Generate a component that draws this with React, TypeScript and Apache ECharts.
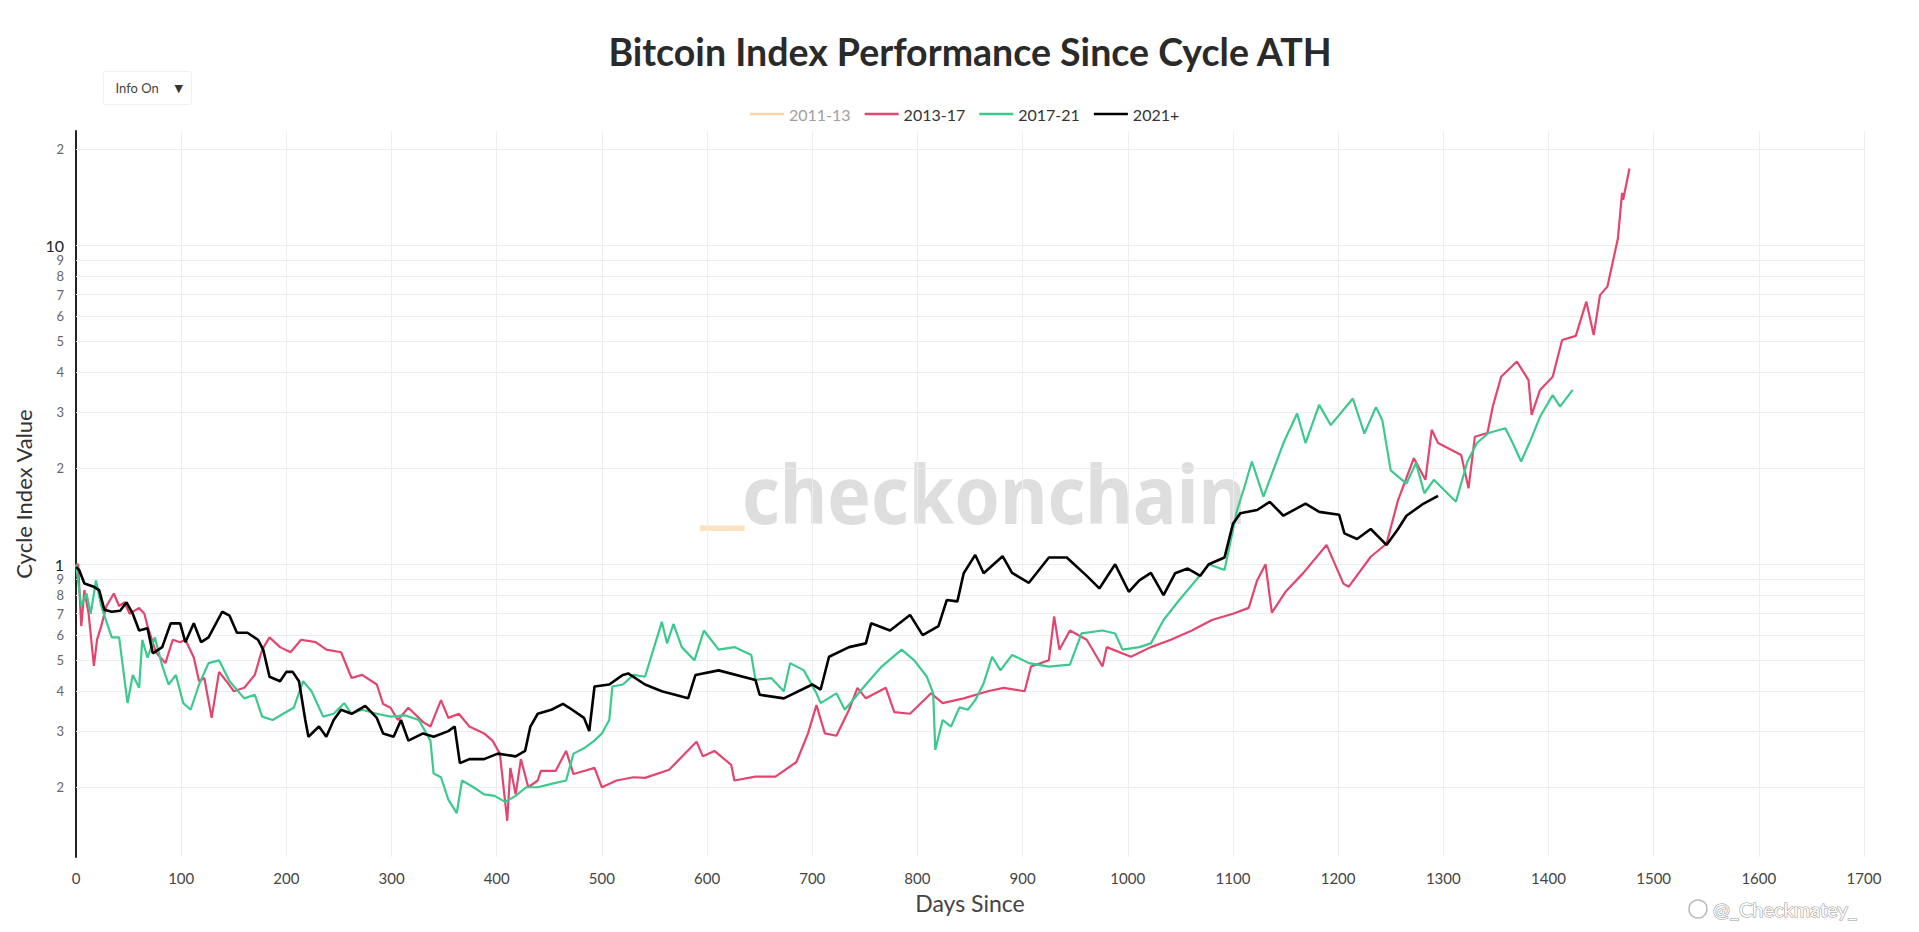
import React, { useEffect, useRef } from "react";
import * as echarts from "echarts";

// ---- Data ----
const seriesNames = ["2011-13", "2013-17", "2017-21", "2021+"];
const seriesColors = ["#f8d4aa", "#e2466f", "#3cc98e", "#000000"];
const seriesWidths = [2, 2.2, 2.2, 2.6];

// 2011-13 is hidden in the reference (legend item switched off): nothing to read
const days2011: number[] = [];
const values2011: number[] = [];

const days2013 = [0, 2, 5, 8, 12, 17, 20, 24, 29, 36, 41, 46, 51, 60, 65, 68, 76, 85, 92, 99, 104, 112, 117, 122, 129, 136, 143, 150, 160, 170, 177, 184, 194, 204, 214, 228, 238, 252, 262, 272, 286, 292, 299, 306, 316, 330, 337, 347, 354, 364, 374, 388, 396, 403, 410, 413, 418, 423, 430, 439, 442, 456, 466, 473, 483, 493, 500, 514, 530, 541, 564, 590, 596, 607, 623, 626, 646, 665, 685, 696, 704, 712, 723, 735, 743, 751, 770, 778, 793, 813, 824, 844, 867, 882, 902, 908, 925, 930, 935, 945, 961, 976, 980, 1003, 1022, 1041, 1061, 1080, 1100, 1115, 1123, 1131, 1137, 1150, 1167, 1189, 1205, 1210, 1231, 1246, 1257, 1272, 1283, 1289, 1295, 1317, 1324, 1330, 1342, 1347, 1355, 1370, 1381, 1384, 1392, 1404, 1413, 1426, 1436, 1443, 1449, 1456, 1466, 1470, 1471, 1477];
const values2013 = [1.0, 1.0, 0.64, 0.83, 0.7, 0.48, 0.58, 0.64, 0.74, 0.81, 0.74, 0.76, 0.7, 0.73, 0.7, 0.64, 0.53, 0.49, 0.58, 0.57, 0.58, 0.51, 0.43, 0.44, 0.33, 0.46, 0.43, 0.4, 0.41, 0.45, 0.54, 0.59, 0.55, 0.53, 0.58, 0.57, 0.54, 0.53, 0.44, 0.45, 0.42, 0.365, 0.355, 0.325, 0.355, 0.32, 0.31, 0.375, 0.33, 0.34, 0.31, 0.295, 0.28, 0.255, 0.157, 0.23, 0.19, 0.245, 0.2, 0.21, 0.225, 0.225, 0.26, 0.22, 0.225, 0.23, 0.2, 0.21, 0.215, 0.214, 0.227, 0.278, 0.25, 0.26, 0.235, 0.21, 0.216, 0.216, 0.24, 0.295, 0.362, 0.295, 0.29, 0.35, 0.41, 0.38, 0.41, 0.344, 0.34, 0.394, 0.367, 0.38, 0.4, 0.41, 0.4, 0.478, 0.5, 0.686, 0.54, 0.62, 0.58, 0.478, 0.55, 0.513, 0.55, 0.58, 0.62, 0.669, 0.7, 0.73, 0.89, 1.0, 0.705, 0.82, 0.94, 1.15, 0.87, 0.85, 1.056, 1.16, 1.59, 2.15, 1.84, 2.64, 2.4, 2.2, 1.73, 2.51, 2.58, 3.12, 3.87, 4.32, 3.78, 2.94, 3.52, 3.87, 5.05, 5.2, 6.66, 5.23, 6.98, 7.42, 10.5, 14.6, 13.9, 17.4];

const days2017 = [0, 5, 10, 14, 19, 24, 29, 34, 41, 49, 54, 60, 63, 68, 75, 82, 88, 95, 102, 109, 117, 126, 136, 146, 160, 170, 177, 187, 197, 207, 216, 224, 235, 245, 255, 262, 272, 286, 299, 313, 326, 337, 340, 347, 354, 362, 367, 378, 388, 398, 408, 418, 428, 439, 452, 466, 473, 483, 493, 500, 507, 510, 520, 530, 541, 557, 562, 568, 576, 588, 597, 611, 626, 642, 646, 661, 673, 679, 692, 704, 708, 723, 731, 751, 766, 785, 797, 809, 815, 817, 824, 832, 840, 848, 855, 863, 871, 879, 890, 906, 925, 945, 956, 976, 988, 995, 1011, 1022, 1034, 1049, 1065, 1077, 1092, 1100, 1104, 1111, 1118, 1129, 1148, 1161, 1169, 1182, 1193, 1214, 1225, 1236, 1242, 1250, 1265, 1274, 1282, 1291, 1312, 1323, 1332, 1343, 1359, 1366, 1374, 1383, 1392, 1404, 1411, 1423];
const values2017 = [1.0, 0.74, 0.81, 0.7, 0.89, 0.74, 0.66, 0.59, 0.59, 0.367, 0.45, 0.41, 0.58, 0.51, 0.59, 0.48, 0.42, 0.45, 0.367, 0.35, 0.42, 0.49, 0.5, 0.43, 0.38, 0.39, 0.333, 0.325, 0.34, 0.355, 0.43, 0.4, 0.333, 0.34, 0.367, 0.34, 0.35, 0.34, 0.333, 0.336, 0.325, 0.28, 0.221, 0.215, 0.183, 0.166, 0.21, 0.2, 0.19, 0.188, 0.18, 0.188, 0.2, 0.2, 0.205, 0.21, 0.255, 0.265, 0.28, 0.295, 0.325, 0.414, 0.42, 0.45, 0.444, 0.66, 0.565, 0.65, 0.55, 0.5, 0.62, 0.54, 0.55, 0.52, 0.434, 0.44, 0.4, 0.49, 0.465, 0.394, 0.367, 0.394, 0.35, 0.42, 0.478, 0.54, 0.5, 0.444, 0.394, 0.262, 0.325, 0.31, 0.356, 0.35, 0.375, 0.424, 0.513, 0.465, 0.52, 0.49, 0.478, 0.485, 0.607, 0.62, 0.607, 0.54, 0.55, 0.565, 0.669, 0.773, 0.893, 1.0, 0.96, 1.28, 1.48, 1.75, 2.1, 1.63, 2.4, 2.97, 2.4, 3.16, 2.73, 3.31, 2.57, 3.11, 2.83, 1.97, 1.79, 2.08, 1.67, 1.84, 1.57, 2.1, 2.4, 2.58, 2.67, 2.4, 2.1, 2.45, 2.9, 3.39, 3.12, 3.52];

const days2021 = [0, 3, 8, 17, 22, 27, 34, 42, 48, 54, 60, 68, 73, 82, 90, 99, 104, 112, 119, 126, 139, 146, 153, 163, 173, 178, 184, 194, 200, 206, 212, 218, 221, 231, 238, 245, 252, 262, 275, 286, 292, 302, 309, 316, 330, 340, 354, 360, 365, 374, 388, 401, 418, 427, 432, 439, 452, 463, 469, 483, 488, 493, 507, 520, 525, 541, 557, 582, 589, 611, 646, 650, 673, 700, 708, 716, 735, 751, 756, 774, 793, 805, 820, 828, 838, 844, 855, 863, 881, 890, 906, 925, 942, 961, 973, 988, 1001, 1011, 1022, 1034, 1045, 1057, 1069, 1077, 1092, 1100, 1107, 1123, 1135, 1148, 1169, 1182, 1201, 1206, 1218, 1231, 1246, 1257, 1265, 1280, 1295];
const values2021 = [0.98, 0.96, 0.87, 0.85, 0.83, 0.72, 0.71, 0.715, 0.76, 0.7, 0.62, 0.63, 0.526, 0.55, 0.653, 0.653, 0.57, 0.653, 0.57, 0.59, 0.71, 0.69, 0.61, 0.61, 0.58, 0.54, 0.444, 0.43, 0.46, 0.46, 0.43, 0.325, 0.288, 0.31, 0.288, 0.325, 0.35, 0.34, 0.36, 0.33, 0.295, 0.288, 0.325, 0.28, 0.295, 0.288, 0.3, 0.31, 0.238, 0.245, 0.245, 0.255, 0.25, 0.26, 0.31, 0.34, 0.35, 0.365, 0.355, 0.33, 0.3, 0.414, 0.42, 0.45, 0.455, 0.42, 0.4, 0.38, 0.45, 0.465, 0.434, 0.39, 0.38, 0.42, 0.405, 0.513, 0.55, 0.565, 0.653, 0.62, 0.694, 0.6, 0.64, 0.773, 0.765, 0.937, 1.07, 0.937, 1.06, 0.94, 0.875, 1.05, 1.05, 0.92, 0.84, 1.0, 0.82, 0.89, 0.94, 0.8, 0.937, 0.97, 0.92, 1.0, 1.05, 1.34, 1.445, 1.48, 1.57, 1.42, 1.55, 1.46, 1.43, 1.25, 1.2, 1.29, 1.15, 1.29, 1.42, 1.54, 1.64];

// log-axis gridlines and their tick labels
const yTickValues = [0.2, 0.3, 0.4, 0.5, 0.6, 0.7, 0.8, 0.9, 1, 2, 3, 4, 5, 6, 7, 8, 9, 10, 20];
const yTickLabels = ["2", "3", "4", "5", "6", "7", "8", "9", "1", "2", "3", "4", "5", "6", "7", "8", "9", "10", "2"];
const yMajorTicks = [1, 10];

const FONT = "Lato, 'Noto Sans', sans-serif";

function zip(days: number[], values: number[]) {
  return days.map((d, i) => [d, values[i]]);
}

export default function App() {
  const ref = useRef<HTMLDivElement>(null);

  useEffect(() => {
    if (!ref.current) return;
    const chart = echarts.init(ref.current, null, { renderer: "svg" });

    const allDays = [days2011, days2013, days2017, days2021];
    const allValues = [values2011, values2013, values2017, values2021];

    const series: any[] = seriesNames.map((name, i) => ({
      name,
      type: "line",
      data: zip(allDays[i], allValues[i]),
      showSymbol: false,
      symbol: "none",
      color: seriesColors[i],
      lineStyle: { width: seriesWidths[i], color: seriesColors[i] },
      emphasis: { disabled: true },
      z: 2 + i,
    }));

    series[1].markLine = {
      silent: true,
      symbol: ["none", "none"],
      z: 1,
      animation: false,
      lineStyle: { color: "#ececec", width: 1, type: "solid" },
      label: {
        position: "start",
        distance: 12,
        formatter: "{b}",
        fontSize: 13,
        color: "#666",
        fontFamily: FONT,
      },
      emphasis: { disabled: true },
      data: yTickValues.map((v, i) => ({
        yAxis: v,
        name: yTickLabels[i],
        label: yMajorTicks.includes(v)
          ? { fontSize: 16, color: "#222", distance: 12 }
          : undefined,
      })),
    };

    const wmFont = { fontSize: 80, fontWeight: "bold", fontFamily: "'Noto Sans'" };

    chart.setOption({
      animation: false,
      backgroundColor: "#ffffff",
      title: {
        text: "Bitcoin Index Performance Since Cycle ATH",
        left: 965,
        top: 27,
        textAlign: "center",
        textStyle: {
          fontFamily: FONT,
          fontWeight: "bold",
          fontSize: 37.5,
          color: "#2a2a2a",
        },
      },
      legend: {
        left: 745,
        top: 101,
        icon: "rect",
        itemWidth: 34,
        itemHeight: 2.5,
        itemGap: 14,
        textStyle: { fontFamily: FONT, fontSize: 16, color: "#333" },
        data: [
          { name: "2011-13", textStyle: { color: "#a0a0a0" } },
          "2013-17",
          "2017-21",
          "2021+",
        ],
      },
      grid: { left: 76, right: 55, top: 131, bottom: 75, containLabel: false },
      xAxis: {
        type: "value",
        min: 0,
        max: 1700,
        interval: 100,
        name: "Days Since",
        nameLocation: "middle",
        nameGap: 34,
        nameTextStyle: { fontFamily: FONT, fontSize: 23, color: "#444" },
        axisLine: { show: false },
        axisTick: { show: false },
        axisLabel: {
          color: "#444",
          fontSize: 15,
          margin: 13,
          fontFamily: FONT,
          formatter: (v: number) => String(v),
        },
        splitLine: { show: true, lineStyle: { color: "#eeeeee", width: 1 } },
      },
      yAxis: {
        type: "log",
        logBase: 10,
        min: 0.1209,
        max: 22.82,
        name: "Cycle Index Value",
        nameLocation: "middle",
        nameGap: 42,
        nameTextStyle: { fontFamily: FONT, fontSize: 22, color: "#333" },
        axisLine: { show: true, lineStyle: { color: "#222", width: 2 } },
        axisTick: { show: false },
        axisLabel: { show: false },
        splitLine: { show: false },
      },
      graphic: [
        {
          type: "text",
          x: 700,
          y: 487,
          scaleX: 1.35,
          z: 0,
          silent: true,
          style: {
            text: "_",
            textAlign: "left",
            textVerticalAlign: "middle",
            fill: "#fde2c2",
            ...wmFont,
          },
        },
        {
          type: "text",
          x: 742,
          y: 493,
          scaleX: 0.915,
          z: 0,
          silent: true,
          style: {
            text: "checkonchain",
            textAlign: "left",
            textVerticalAlign: "middle",
            fill: "#dedede",
            ...wmFont,
          },
        },
        {
          type: "group",
          left: 103,
          top: 71,
          silent: true,
          children: [
            {
              type: "rect",
              shape: { x: 0, y: 0, width: 88, height: 33, r: 2 },
              style: { fill: "#ffffff", stroke: "#f1f1f1", lineWidth: 1 },
            },
            {
              type: "text",
              x: 12,
              y: 16.5,
              style: {
                text: "Info On",
                fontFamily: FONT,
                fontSize: 13,
                fill: "#444",
                textVerticalAlign: "middle",
              },
            },
            {
              type: "text",
              x: 71,
              y: 16.5,
              style: {
                text: "▼",
                fontFamily: "'DejaVu Sans'",
                fontSize: 11,
                fill: "#333",
                textVerticalAlign: "middle",
              },
            },
          ],
        },
        {
          type: "circle",
          shape: { cx: 1698, cy: 909, r: 9 },
          silent: true,
          style: { fill: "rgba(255,255,255,0.8)", stroke: "#b8b8b8", lineWidth: 1.5 },
        },
        {
          type: "text",
          x: 1713,
          y: 909,
          silent: true,
          style: {
            text: "@_Checkmatey_",
            fontFamily: FONT,
            fontSize: 20,
            fill: "#ffffff",
            stroke: "#9a9a9a",
            lineWidth: 1.2,
            textVerticalAlign: "middle",
          },
        },
      ],
      series,
    });

    return () => chart.dispose();
  }, []);

  return (
    <div
      ref={ref}
      style={{ position: "fixed", left: 0, top: 0, width: "100vw", height: "100vh", background: "#fff" }}
    />
  );
}
